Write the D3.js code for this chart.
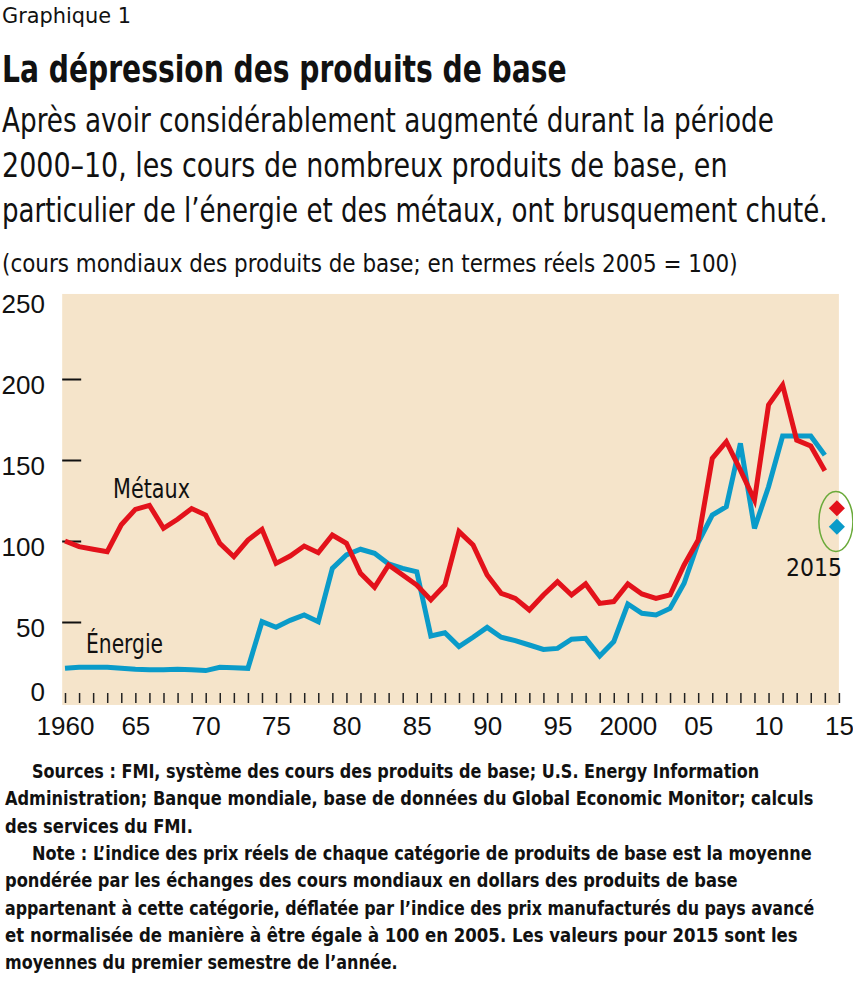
<!DOCTYPE html>
<html lang="fr">
<head>
  <meta charset="UTF-8">
  <title>Graphique 1</title>
  <script src="https://d3js.org/d3.v7.min.js"></script>
  <style>
    body { margin: 0; background: #fff; }
    text { font-family: "Liberation Sans Narrow", "DejaVu Sans Condensed", sans-serif; fill: #111; }
  </style>
</head>
<body>
  <svg id="chart"></svg>
  <script>
    // years 1960..2014 for the lines, 2015 shown as separate diamonds
    const years = d3.range(1960, 2015);
    const metaux = [
      100, 96.5, 94.9, 93.4, 110, 119.5, 122, 107.8, 113.4, 120,
      116, 98.6, 90.3, 100.6, 107.2, 86.2, 90.7, 96.9, 92.8, 103.7,
      98.6, 80, 71.4, 85.2, 79, 72.8, 63.6, 72.8, 105.8, 97.5,
      79, 67.7, 64.6, 57.4, 66.7, 74.9, 66.7, 73.5, 61.5, 62.6,
      73.5, 67.3, 64.6, 66.7, 85.2, 100.6, 151, 161.3, 143.8, 125.3,
      184, 196.3, 162.3, 158.6, 143.4
    ];
    const energie = [
      21.4, 22, 22, 22, 21.4, 20.8, 20.5, 20.5, 20.8, 20.5,
      20, 22, 21.7, 21.4, 50.2, 46.7, 51, 54.3, 50.2, 83.1,
      91.4, 94.9, 92.4, 85.8, 83.1, 81, 41.4, 43.4, 34.8, 40.6,
      46.7, 40.6, 38.5, 35.8, 33.1, 33.7, 39.4, 39.9, 29, 37.9,
      61.1, 55.4, 54.3, 58.4, 73.9, 99, 116, 121.2, 160.3, 107.8,
      133.5, 164.8, 164.8, 164.8, 153
    ];
    const year2015 = 2015;
    const metaux2015 = 120.2;
    const energie2015 = 108.8;

    const yTicks = [0, 50, 100, 150, 200, 250];
    const xTickYears = [1960, 1965, 1970, 1975, 1980, 1985, 1990, 1995, 2000, 2005, 2010, 2015];
    const xTickLabels = ["1960", "65", "70", "75", "80", "85", "90", "95", "2000", "05", "10", "15"];

    const header = [
      "Après avoir considérablement augmenté durant la période",
      "2000–10, les cours de nombreux produits de base, en",
      "particulier de l’énergie et des métaux, ont brusquement chuté."
    ];
    const footer = [
      "Sources : FMI, système des cours des produits de base; U.S. Energy Information",
      "Administration; Banque mondiale, base de données du Global Economic Monitor; calculs",
      "des services du FMI.",
      "Note : L’indice des prix réels de chaque catégorie de produits de base est la moyenne",
      "pondérée par les échanges des cours mondiaux en dollars des produits de base",
      "appartenant à cette catégorie, déflatée par l’indice des prix manufacturés du pays avancé",
      "et normalisée de manière à être égale à 100 en 2005. Les valeurs pour 2015 sont les",
      "moyennes du premier semestre de l’année."
    ];

    const W = 853, H = 989;
    const red = "#e3121b", blue = "#0a9bc9", bg = "#f5e4ca";

    const svg = d3.select("#chart").attr("width", W).attr("height", H);

    // squeeze a text horizontally to the width it has in the picture
    function fitText(str, x, y, size, width, weight) {
      const t = svg.append("text")
        .attr("font-size", size)
        .attr("font-weight", weight || "normal")
        .text(str);
      const w = t.node().getComputedTextLength();
      t.attr("transform", `translate(${x},${y}) scale(${width / w},1)`);
      return t;
    }

    // header
    fitText("Graphique 1", 2, 23, 22, 129);
    fitText("La dépression des produits de base", 2, 82, 38, 565, "bold");
    const headLen = [772, 726, 826];
    header.forEach((t, i) => fitText(t, 2, 132 + i * 45, 34, headLen[i]));
    fitText("(cours mondiaux des produits de base; en termes réels 2005 = 100)", 2, 272, 24, 736);

    // scales
    const x = d3.scaleLinear().domain([1960, 2015]).range([65, 838.9]);
    const y = d3.scaleLinear().domain([0, 250]).range([703, 298]);

    // plot background
    svg.append("rect")
      .attr("x", x(1959.8)).attr("y", y(252.5))
      .attr("width", x(2015) - x(1959.8)).attr("height", y(-1.2) - y(252.5))
      .attr("fill", bg);

    // y ticks inside the plot
    svg.append("g")
      .attr("transform", `translate(${x(1959.8)},0)`)
      .call(d3.axisRight(y).tickValues([50, 100, 150, 200]).tickSize(19).tickFormat(""))
      .call(g => g.select(".domain").remove())
      .call(g => g.selectAll("line").attr("stroke", "#111").attr("stroke-width", 2));

    // y labels
    svg.append("g")
      .selectAll("text")
      .data(yTicks)
      .join("text")
      .attr("x", 45)
      .attr("y", d => d === 0 ? y(d) - 11 : y(d) + 6)
      .attr("dy", "0.35em")
      .attr("text-anchor", "end")
      .style("font-family", "'Liberation Sans', Arial, sans-serif")
      .attr("font-size", 26)
      .text(d => d);

    // year ticks
    svg.append("g")
      .attr("transform", `translate(0,${y(0)})`)
      .call(d3.axisTop(x).tickValues(d3.range(1960, 2016)).tickSize(10).tickFormat(""))
      .call(g => g.select(".domain").remove())
      .call(g => g.selectAll("line").attr("stroke", "#222").attr("stroke-width", 1.5));

    // year labels
    svg.append("g")
      .attr("transform", `translate(0,${y(0)})`)
      .call(d3.axisBottom(x).tickValues(xTickYears).tickSize(0).tickPadding(14)
        .tickFormat((d, i) => xTickLabels[i]))
      .call(g => g.select(".domain").remove())
      .call(g => g.selectAll("text")
        .style("font-family", "'Liberation Sans', Arial, sans-serif")
        .attr("font-size", 26).attr("fill", "#111"));

    // lines
    const line = d3.line().x((d, i) => x(years[i])).y(d => y(d));
    svg.append("path").datum(energie)
      .attr("d", line).attr("fill", "none")
      .attr("stroke", blue).attr("stroke-width", 5);
    svg.append("path").datum(metaux)
      .attr("d", line).attr("fill", "none")
      .attr("stroke", red).attr("stroke-width", 5);

    // 2015 diamonds and ellipse
    const diamond = d3.symbol().type(d3.symbolSquare).size(130);
    svg.append("ellipse")
      .attr("cx", x(year2015) - 3)
      .attr("cy", y((metaux2015 + energie2015) / 2) + 4)
      .attr("rx", 17).attr("ry", 30)
      .attr("fill", "none").attr("stroke", "#6aaa3a").attr("stroke-width", 1.5);
    [[metaux2015, red], [energie2015, blue]].forEach(([v, c]) => {
      svg.append("path")
        .attr("d", diamond())
        .attr("transform", `translate(${x(year2015) - 2},${y(v)}) rotate(45)`)
        .attr("fill", c);
    });

    // series labels
    fitText("Métaux", 113, 498, 26, 77);
    fitText("Énergie", 86, 653, 26, 77);
    fitText("2015", 786, 576, 25, 56);

    // footer
    const footX = [32, 5, 5, 32, 5, 5, 5, 5];
    const footLen = [728, 809, 188, 780, 733, 810, 793, 393];
    footer.forEach((t, i) => fitText(t, footX[i], 778 + i * 27.3, 20, footLen[i], "bold"));
  </script>
</body>
</html>
